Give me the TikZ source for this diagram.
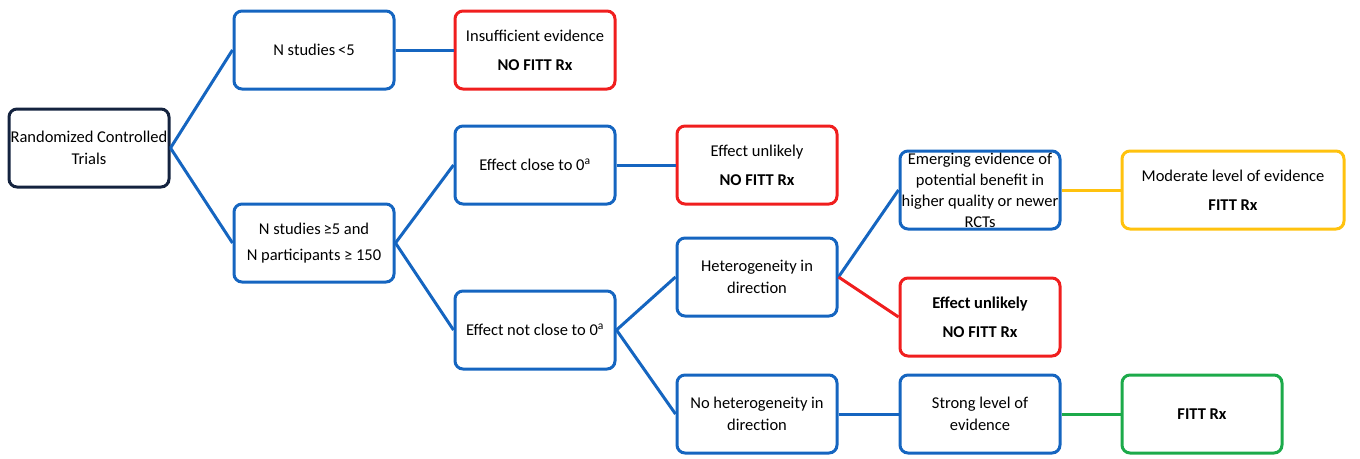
\documentclass[tikz,border=0pt]{standalone}
\usepackage{fontspec}
\setmainfont{Carlito}
\definecolor{cblue}{HTML}{1565C0}
\definecolor{cred}{HTML}{F01E1E}
\definecolor{cyel}{HTML}{FFC20E}
\definecolor{cgreen}{HTML}{1CAA4A}
\definecolor{cnavy}{HTML}{14233F}
\tikzset{
  box/.style={draw=cblue, line width=3pt, rounded corners=8pt, minimum width=160pt, minimum height=78pt, align=center, inner sep=1pt, font=\fontsize{16.5}{22}\selectfont},
  redbox/.style={box, draw=cred},
  link/.style={draw=cblue, line width=3pt},
}
\begin{document}
\begin{tikzpicture}[x=1pt,y=-1pt]
\useasboundingbox (0,0) rectangle (1360,458);
\node[box, draw=cnavy, minimum width=160pt] (rct) at (89,148) {Randomized Controlled\\Trials};
\node[box] (n5) at (314,50) {N studies\,<5};
\node[redbox] (ins) at (535,50) {Insufficient evidence\\[7pt]\textbf{NO FITT Rx}};
\node[box] (n5b) at (314,243) {N studies\,≥5 and\\[4pt]N participants ≥ 150};
\node[box] (close) at (535,165) {Effect close to 0\textsuperscript{a}};
\node[redbox] (unl1) at (757,165) {Effect unlikely\\[7pt]\textbf{NO FITT Rx}};
\node[box] (nclose) at (535,330) {Effect not close to 0\textsuperscript{a}};
\node[box] (het) at (757,277) {Heterogeneity in\\direction};
\node[box, font=\fontsize{16.5}{21}\selectfont] (emer) at (980,190) {Emerging evidence of\\potential benefit in\\higher quality or newer\\RCTs};
\node[box, draw=cyel, minimum width=222pt] (mod) at (1233,190) {Moderate level of evidence\\[7pt]\textbf{FITT Rx}};
\node[redbox] (unl2) at (980,317) {\textbf{Effect unlikely}\\[7pt]\textbf{NO FITT Rx}};
\node[box] (nohet) at (757,414) {No heterogeneity in\\direction};
\node[box] (strong) at (980,414) {Strong level of\\evidence};
\node[box, draw=cgreen] (fitt) at (1202,414) {\textbf{FITT Rx}};
\draw[link] (rct.east) -- (n5.west);
\draw[link] (rct.east) -- (n5b.west);
\draw[link] (n5.east) -- (ins.west);
\draw[link] (n5b.east) -- (close.west);
\draw[link] (n5b.east) -- (nclose.west);
\draw[link] (close.east) -- (unl1.west);
\draw[link] (nclose.east) -- (het.west);
\draw[link] (nclose.east) -- (nohet.west);
\draw[link] (het.east) -- (emer.west);
\draw[link, draw=cred] (het.east) -- (unl2.west);
\draw[link, draw=cyel] (emer.east) -- (mod.west);
\draw[link] (nohet.east) -- (strong.west);
\draw[link, draw=cgreen] (strong.east) -- (fitt.west);
\end{tikzpicture}
\end{document}
